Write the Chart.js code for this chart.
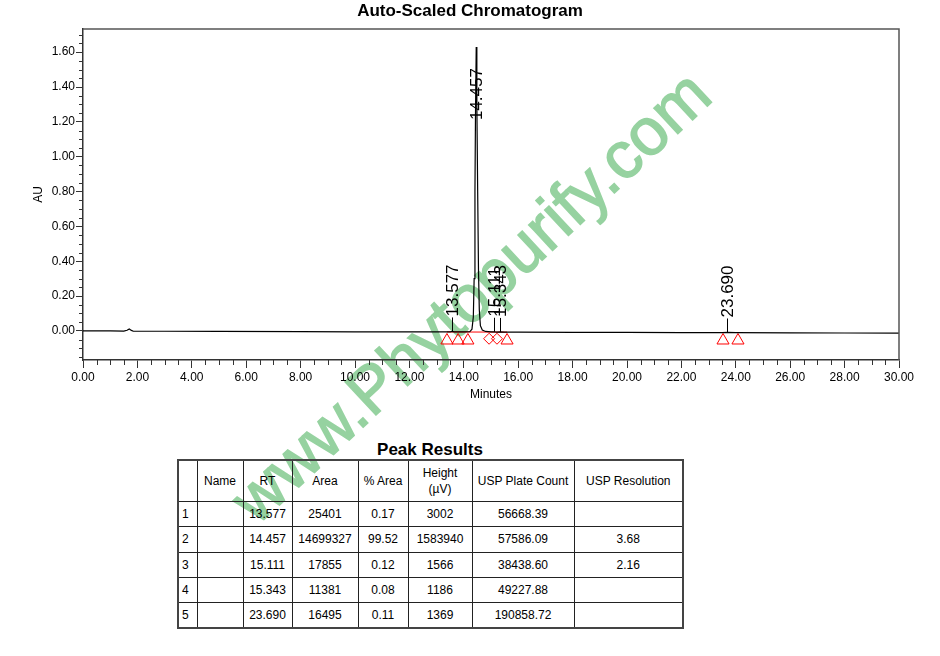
<!DOCTYPE html>
<html>
<head>
<meta charset="utf-8">
<title>Auto-Scaled Chromatogram</title>
<script src="https://cdn.jsdelivr.net/npm/chart.js@4.4.1/dist/chart.umd.min.js"></script>
<style>
  html, body { margin: 0; padding: 0; background: #fff; }
  body { width: 940px; height: 656px; position: relative; overflow: hidden; font-family: "Liberation Sans", Arial, sans-serif; color: #000; }
  #grafico { position: absolute; left: 0; top: 0; width: 940px; height: 410px; z-index: 1; }
  #marca { position: absolute; left: 470px; top: 296px; transform: translate(-50%, -50%) rotate(-43deg); color: rgb(150, 210, 160); -webkit-text-stroke: 1.5px rgb(150, 210, 160); font-size: 66px; white-space: nowrap; z-index: 0; }
  #resultados { position: absolute; left: 177px; top: 440px; width: 506px; z-index: 1; }
  #resultados .titulo { font-weight: bold; font-size: 17px; line-height: 19px; text-align: center; }
  #tabela { border-collapse: collapse; width: 506px; table-layout: fixed; font-size: 12px; border: 2px solid #444; }
  #tabela td, #tabela th { border: 1px solid #222; padding: 0; text-align: center; font-weight: normal; }
  #tabela th { height: 40px; line-height: 16px; }
  #tabela td { height: 24.3px; }
  #tabela td.num { text-align: left; padding-left: 3px; }
</style>
</head>
<body>

<div id="marca">www.Phytopurify.com</div>

<div id="grafico"><canvas id="cromatograma" width="940" height="410"></canvas></div>

<div id="resultados">
  <div class="titulo">Peak Results</div>
  <table id="tabela"></table>
</div>

<script>
var tempo = [0, 1.0, 1.5, 1.62, 1.70, 1.78, 1.85, 3.0, 5.0, 8.0, 10.0, 12.0, 13.3, 13.5, 13.577, 13.65, 14.0, 14.22,
  14.30, 14.35, 14.38, 14.41, 14.43, 14.457, 14.48, 14.51, 14.54, 14.57, 14.61, 14.68, 14.80,
  15.0, 15.111, 15.2, 15.343, 15.5, 16.0, 18.0, 20.0, 22.0, 23.5, 23.69, 24.0, 26.0, 28.0, 30.0];
var absorbancia = [0.000, 0.000, -0.001, 0.004, 0.011, 0.003, -0.002, -0.002, -0.003, -0.004, -0.005, -0.006, -0.006, -0.005, -0.003, -0.006, -0.006, -0.005,
  0.010, 0.080, 0.300, 0.800, 1.250, 1.630, 1.300, 0.800, 0.350, 0.120, 0.030, 0.005, -0.003,
  -0.006, -0.005, -0.007, -0.006, -0.007, -0.007, -0.008, -0.009, -0.010, -0.010, -0.009, -0.010, -0.011, -0.012, -0.013];

// linha de base da integração (vermelha)
var baseTempo = [13.38, 15.59];
var baseAbs = [-0.006, -0.007];

// marcadores de início/fim de pico
var trianguloTempo = [13.38, 13.79, 14.15, 15.59, 23.53, 24.08];
var trianguloAbs = [-0.055, -0.055, -0.055, -0.055, -0.055, -0.055];
var losangoTempo = [14.93, 15.22];
var losangoAbs = [-0.045, -0.045];

// resultados dos picos
var picoRT = [13.577, 14.457, 15.111, 15.343, 23.690];
var picoArea = [25401, 14699327, 17855, 11381, 16495];
var picoPctArea = [0.17, 99.52, 0.12, 0.08, 0.11];
var picoAltura = [3002, 1583940, 1566, 1186, 1369];
var picoPratos = [56668.39, 57586.09, 38438.60, 49227.88, 190858.72];
var picoResolucao = [null, 3.68, 2.16, null, null];

// rótulos dos eixos
var xTicks = [0, 2, 4, 6, 8, 10, 12, 14, 16, 18, 20, 22, 24, 26, 28, 30];
var yTicks = [0, 0.2, 0.4, 0.6, 0.8, 1.0, 1.2, 1.4, 1.6];

var titulo = 'Auto-Scaled Chromatogram';
var fonte = "'Liberation Sans', Arial, sans-serif";
Chart.defaults.font.family = fonte;
Chart.defaults.color = '#000';

function pontos(xs, ys) {
  return xs.map(function (x, i) { return { x: x, y: ys[i] }; });
}

// valor do traçado no tempo mais próximo
function absNoTempo(t) {
  var melhor = 0;
  for (var i = 0; i < tempo.length; i++) {
    if (Math.abs(tempo[i] - t) < Math.abs(tempo[melhor] - t)) melhor = i;
  }
  return absorbancia[melhor];
}

// título, moldura, ticks menores e rótulos dos picos
var extras = {
  id: 'extras',
  afterDatasetsDraw: function (chart) {
    var ctx = chart.ctx, sx = chart.scales.x, sy = chart.scales.y, area = chart.chartArea;
    ctx.save();

    // título centrado na página
    ctx.fillStyle = '#000';
    ctx.font = 'bold 17px ' + fonte;
    ctx.textAlign = 'center';
    ctx.textBaseline = 'middle';
    ctx.fillText(titulo, chart.width / 2, 11);

    // moldura de cima e direita
    ctx.strokeStyle = '#555';
    ctx.lineWidth = 1.5;
    ctx.beginPath();
    ctx.moveTo(area.left, area.top);
    ctx.lineTo(area.right, area.top);
    ctx.lineTo(area.right, area.bottom);
    ctx.stroke();

    // ticks menores
    ctx.strokeStyle = '#333';
    ctx.lineWidth = 1;
    ctx.beginPath();
    for (var i = 1; i < 60; i++) {
      if (i % 4 === 0) continue;
      var px = Math.round(sx.getPixelForValue(i * 0.5)) + 0.5;
      ctx.moveTo(px, area.bottom);
      ctx.lineTo(px, area.bottom + 5);
    }
    for (var j = -3; j <= 34; j++) {
      if (j % 4 === 0) continue;
      var py = Math.round(sy.getPixelForValue(j * 0.05)) + 0.5;
      ctx.moveTo(area.left - 4, py);
      ctx.lineTo(area.left, py);
    }
    ctx.stroke();

    // rótulos dos picos
    ctx.strokeStyle = '#000';
    ctx.font = '17px ' + fonte;
    ctx.textAlign = 'left';
    picoRT.forEach(function (rt) {
      var x = sx.getPixelForValue(rt);
      var topo = absNoTempo(rt);
      var yTexto;
      if (topo > 1) {
        yTexto = sy.getPixelForValue(1.21);
      } else {
        var yBase = sy.getPixelForValue(topo);
        ctx.beginPath();
        ctx.moveTo(Math.round(x) + 0.5, yBase);
        ctx.lineTo(Math.round(x) + 0.5, yBase - 14);
        ctx.stroke();
        yTexto = yBase - 15;
      }
      ctx.save();
      ctx.translate(x + 1, yTexto);
      ctx.rotate(-Math.PI / 2);
      ctx.fillText(rt.toFixed(3), 0, 0);
      ctx.restore();
    });
    ctx.restore();
  }
};

var grafico = new Chart(document.getElementById('cromatograma'), {
  type: 'line',
  data: {
    datasets: [{
      data: pontos(tempo, absorbancia),
      borderColor: '#000',
      borderWidth: 1.2,
      pointRadius: 0,
      tension: 0
    }, {
      data: pontos(baseTempo, baseAbs),
      borderColor: '#ff0000',
      borderWidth: 1,
      pointRadius: 0
    }, {
      data: pontos(trianguloTempo, trianguloAbs),
      showLine: false,
      pointStyle: 'triangle',
      pointRadius: 7,
      pointBorderColor: '#ff0000',
      pointBackgroundColor: 'rgba(0,0,0,0)',
      pointBorderWidth: 1
    }, {
      data: pontos(losangoTempo, losangoAbs),
      showLine: false,
      pointStyle: 'rectRot',
      pointRadius: 5.5,
      pointBorderColor: '#ff0000',
      pointBackgroundColor: 'rgba(0,0,0,0)',
      pointBorderWidth: 1
    }]
  },
  options: {
    responsive: false,
    animation: false,
    events: [],
    layout: { padding: { left: 0, right: 41, top: 29, bottom: 0 } },
    plugins: {
      legend: { display: false },
      tooltip: { enabled: false },
      title: { display: false }
    },
    scales: {
      x: {
        type: 'linear',
        min: 0,
        max: 30,
        afterBuildTicks: function (s) { s.ticks = xTicks.map(function (v) { return { value: v }; }); },
        afterFit: function (s) { s.height = 50; },
        ticks: {
          autoSkip: false,
          maxRotation: 0,
          padding: 2,
          font: { size: 12 },
          callback: function (v) { return Number(v).toFixed(2); }
        },
        grid: { drawOnChartArea: false, drawTicks: true, tickLength: 8, color: '#333' },
        border: { color: '#333', width: 1.5 },
        title: { display: true, text: 'Minutes', font: { size: 12 }, padding: { top: 0, bottom: 8 } }
      },
      y: {
        type: 'linear',
        min: -0.167,
        max: 1.733,
        afterBuildTicks: function (s) { s.ticks = yTicks.map(function (v) { return { value: v }; }); },
        afterFit: function (s) { s.width = 83; },
        ticks: {
          padding: 1,
          font: { size: 12 },
          callback: function (v) { return Number(v).toFixed(2); }
        },
        grid: { drawOnChartArea: false, drawTicks: true, tickLength: 7, color: '#333' },
        border: { color: '#333', width: 1.5 },
        title: { display: true, text: 'AU', font: { size: 12 }, padding: { top: 31, bottom: 0 } }
      }
    }
  },
  plugins: [extras]
});

// monta a tabela de resultados
var tabela = document.getElementById('tabela');
var larguras = [19, 46, 49, 66, 50, 64, 102, 109];
var html = '<colgroup>' + larguras.map(function (w) { return '<col style="width:' + w + 'px">'; }).join('') + '</colgroup>';
html += '<tr><th></th><th>Name</th><th>RT</th><th>Area</th><th>% Area</th><th>Height<br>(µV)</th><th>USP Plate Count</th><th>USP Resolution</th></tr>';
for (var i = 0; i < picoRT.length; i++) {
  html += '<tr><td class="num">' + (i + 1) + '</td><td></td>' +
    '<td>' + picoRT[i].toFixed(3) + '</td>' +
    '<td>' + picoArea[i] + '</td>' +
    '<td>' + picoPctArea[i].toFixed(2) + '</td>' +
    '<td>' + picoAltura[i] + '</td>' +
    '<td>' + picoPratos[i].toFixed(2) + '</td>' +
    '<td>' + (picoResolucao[i] === null ? '' : picoResolucao[i].toFixed(2)) + '</td></tr>';
}
tabela.innerHTML = html;
</script>
</body>
</html>
